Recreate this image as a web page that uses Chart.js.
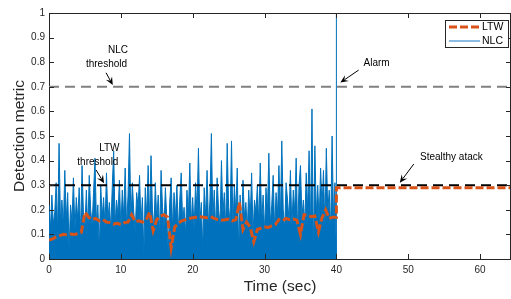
<!DOCTYPE html>
<html>
<head>
<script src="https://cdn.jsdelivr.net/npm/chart.js"></script>
<style>html,body{margin:0;padding:0;background:#fff;}</style>
</head>
<body>
<canvas id="chart" width="511" height="299"></canvas>
<script>
// NLC detection metric, sampled every 0.2 s from t = 0
const nlcStep = 0.2;
const nlcValues = [
  0.22, 0.12, 0.26, 0.14, 0.19, 0.31, 0.11, 0.47, 0.15, 0.24,
  0.13, 0.36, 0.16, 0.27, 0.04, 0.22, 0.15, 0.33, 0.12, 0.25,
  0.16, 0.29, 0.10, 0.38, 0.18, 0.13, 0.28, 0.11, 0.34, 0.20,
  0.14, 0.27, 0.41, 0.15, 0.22, 0.03, 0.30, 0.17, 0.25, 0.13,
  0.35, 0.16, 0.23, 0.12, 0.29, 0.44, 0.14, 0.24, 0.18, 0.32,
  0.12, 0.28, 0.17, 0.37, 0.13, 0.26, 0.51, 0.15, 0.31, 0.19,
  0.11, 0.27, 0.21, 0.34, 0.14, 0.25, 0.02, 0.29, 0.17, 0.38,
  0.15, 0.42, 0.20, 0.12, 0.31, 0.16, 0.26, 0.10, 0.36, 0.21,
  0.13, 0.29, 0.16, 0.03, 0.23, 0.33, 0.12, 0.27, 0.17, 0.30,
  0.11, 0.24, 0.35, 0.15, 0.21, 0.10, 0.28, 0.18, 0.39, 0.14,
  0.25, 0.12, 0.31, 0.19, 0.45, 0.15, 0.23, 0.04, 0.29, 0.17,
  0.36, 0.13, 0.24, 0.51, 0.16, 0.28, 0.11, 0.33, 0.20, 0.14,
  0.40, 0.18, 0.27, 0.12, 0.47, 0.21, 0.15, 0.48, 0.13, 0.30,
  0.19, 0.37, 0.03, 0.26, 0.11, 0.32, 0.17, 0.23, 0.12, 0.28,
  0.16, 0.35, 0.10, 0.24, 0.19, 0.30, 0.14, 0.39, 0.15, 0.26,
  0.11, 0.29, 0.19, 0.43, 0.14, 0.22, 0.34, 0.12, 0.27, 0.18,
  0.38, 0.15, 0.48, 0.20, 0.12, 0.31, 0.24, 0.16, 0.36, 0.13,
  0.28, 0.19, 0.41, 0.11, 0.30, 0.38, 0.17, 0.24, 0.14, 0.35,
  0.20, 0.44, 0.12, 0.61, 0.02, 0.46, 0.18, 0.30, 0.15, 0.37,
  0.21, 0.36, 0.13, 0.45, 0.19, 0.28, 0.11, 0.50, 0.16, 0.31
];
const alarmTime = 40;
const alarmValue = 1;

// LTW detection metric, sampled every 0.5 s from t = 0 to 40
const ltwStep = 0.5;
const ltwValues = [
  0.077, 0.082, 0.090, 0.095, 0.100, 0.098, 0.102, 0.100, 0.103, 0.108,
  0.190, 0.170, 0.160, 0.165, 0.155, 0.160, 0.150, 0.148, 0.142, 0.145,
  0.140, 0.148, 0.150, 0.180, 0.152, 0.155, 0.150, 0.158, 0.190, 0.115,
  0.160, 0.175, 0.180, 0.170, 0.045, 0.130, 0.145, 0.155, 0.160, 0.165,
  0.168, 0.170, 0.172, 0.170, 0.168, 0.172, 0.165, 0.160, 0.158, 0.160,
  0.162, 0.155, 0.160, 0.230, 0.120, 0.150, 0.130, 0.070, 0.120, 0.125,
  0.130, 0.128, 0.135, 0.140, 0.160, 0.155, 0.165, 0.160, 0.162, 0.158,
  0.100, 0.180, 0.178, 0.172, 0.175, 0.110, 0.168, 0.200, 0.165, 0.170, 0.170
];
const ltwAttackValue = 0.29;

const endTime = 64.3;
const nlcThreshold = 0.7;
const ltwThreshold = 0.3;
const xTicks = [0, 10, 20, 30, 40, 50, 60];
const yTicks = [0, 0.1, 0.2, 0.3, 0.4, 0.5, 0.6, 0.7, 0.8, 0.9, 1];

const FONT = "'Liberation Sans', Arial, Helvetica, sans-serif";
const AXIS = '#262626';
const BLUE = '#0072BD';
const ORANGE = '#D95319';

const nlcPoints = nlcValues.map((v, i) => ({ x: i * nlcStep, y: v }));
nlcPoints.push({ x: alarmTime, y: 0 }, { x: alarmTime, y: alarmValue });
const ltwPoints = ltwValues.map((v, i) => ({ x: i * ltwStep, y: v }));
ltwPoints.push({ x: alarmTime, y: ltwAttackValue }, { x: endTime, y: ltwAttackValue });

// text labels and arrows, in data coordinates
const notes = [
  { text: 'NLC', x: 9.6, y: 0.848 },
  { text: 'threshold', x: 8.0, y: 0.79 },
  { text: 'LTW', x: 8.4, y: 0.451 },
  { text: 'threshold', x: 6.8, y: 0.394 },
  { text: 'Alarm', x: 45.6, y: 0.797 },
  { text: 'Stealthy atack', x: 56.0, y: 0.415 }
];
const arrows = [
  [7.94, 0.757, 8.88, 0.707],
  [6.55, 0.362, 7.67, 0.308],
  [43.1, 0.768, 40.55, 0.717],
  [50.77, 0.386, 48.82, 0.31]
];

function drawArrow(ctx, x1, y1, x2, y2) {
  const a = Math.atan2(y2 - y1, x2 - x1);
  const len = 8, w = 3.5;
  ctx.strokeStyle = '#000';
  ctx.lineWidth = 1;
  ctx.beginPath();
  ctx.moveTo(x1, y1);
  ctx.lineTo(x2 - Math.cos(a) * 5, y2 - Math.sin(a) * 5);
  ctx.stroke();
  ctx.save();
  ctx.translate(x2, y2);
  ctx.rotate(a);
  ctx.fillStyle = '#000';
  ctx.beginPath();
  ctx.moveTo(0, 0);
  ctx.lineTo(-len, -w);
  ctx.lineTo(-len * 0.6, 0);
  ctx.lineTo(-len, w);
  ctx.closePath();
  ctx.fill();
  ctx.restore();
}

const extras = {
  id: 'extras',
  afterDraw(chart) {
    const { ctx, chartArea: a, scales: { x, y } } = chart;
    ctx.save();
    // box and inward ticks
    ctx.strokeStyle = AXIS;
    ctx.lineWidth = 1;
    ctx.beginPath();
    ctx.moveTo(a.left, a.top + 0.5);
    ctx.lineTo(a.right, a.top + 0.5);
    ctx.moveTo(a.right - 0.5, a.top);
    ctx.lineTo(a.right - 0.5, a.bottom);
    xTicks.forEach(t => {
      const px = Math.round(x.getPixelForValue(t)) + 0.5;
      ctx.moveTo(px, a.top); ctx.lineTo(px, a.top + 5);
      ctx.moveTo(px, a.bottom); ctx.lineTo(px, a.bottom - 5);
    });
    yTicks.forEach(t => {
      const py = Math.round(y.getPixelForValue(t)) + 0.5;
      ctx.moveTo(a.left, py); ctx.lineTo(a.left + 5, py);
      ctx.moveTo(a.right, py); ctx.lineTo(a.right - 5, py);
    });
    ctx.stroke();

    // annotations
    ctx.fillStyle = '#000';
    ctx.font = '10px ' + FONT;
    ctx.textAlign = 'center';
    ctx.textBaseline = 'middle';
    notes.forEach(n => ctx.fillText(n.text, x.getPixelForValue(n.x), y.getPixelForValue(n.y)));
    arrows.forEach(r => drawArrow(ctx,
      x.getPixelForValue(r[0]), y.getPixelForValue(r[1]),
      x.getPixelForValue(r[2]), y.getPixelForValue(r[3])));

    // legend box
    ctx.fillStyle = '#fff';
    ctx.fillRect(445.5, 20.5, 63, 27);
    ctx.strokeStyle = AXIS;
    ctx.strokeRect(445.5, 20.5, 63, 27);
    ctx.lineWidth = 3;
    ctx.strokeStyle = ORANGE;
    ctx.setLineDash([8, 3]);
    ctx.beginPath(); ctx.moveTo(449, 27); ctx.lineTo(480, 27); ctx.stroke();
    ctx.setLineDash([]);
    ctx.lineWidth = 1.2;
    ctx.strokeStyle = '#3d8fd0';
    ctx.beginPath(); ctx.moveTo(449, 41); ctx.lineTo(480, 41); ctx.stroke();
    ctx.fillStyle = '#000';
    ctx.font = '10.5px ' + FONT;
    ctx.textAlign = 'left';
    ctx.fillText('LTW', 482, 27);
    ctx.fillText('NLC', 482, 41.5);
    ctx.restore();
  }
};

new Chart(document.getElementById('chart'), {
  type: 'line',
  data: {
    datasets: [
      { label: 'LTW', data: ltwPoints, borderColor: ORANGE, borderWidth: 3, borderDash: [8, 3] },
      { label: 'LTW threshold', data: [{ x: 0, y: ltwThreshold }, { x: endTime, y: ltwThreshold }],
        borderColor: '#000', borderWidth: 2, borderDash: [10, 6] },
      { label: 'NLC threshold', data: [{ x: 0, y: nlcThreshold }, { x: endTime, y: nlcThreshold }],
        borderColor: '#808080', borderWidth: 2, borderDash: [10, 6] },
      { label: 'NLC', data: nlcPoints, borderColor: BLUE, backgroundColor: BLUE, borderWidth: 1, fill: 'origin' }
    ]
  },
  options: {
    responsive: false,
    animation: false,
    layout: { padding: { top: 13, right: 0, left: 0, bottom: 0 } },
    elements: { point: { radius: 0 }, line: { tension: 0 } },
    plugins: { legend: { display: false }, tooltip: { enabled: false } },
    scales: {
      x: {
        type: 'linear', min: 0, max: endTime,
        afterBuildTicks: s => { s.ticks = xTicks.map(v => ({ value: v })); },
        afterFit: s => { s.height = 40; },
        grid: { display: false, drawTicks: false },
        border: { display: true, color: AXIS, width: 1 },
        ticks: { font: { family: FONT, size: 10 }, color: AXIS, padding: 5, maxRotation: 0, autoSkip: false },
        title: { display: true, text: 'Time (sec)', color: AXIS, font: { family: FONT, size: 15.5 }, padding: { top: 0, bottom: 3 } }
      },
      y: {
        type: 'linear', min: 0, max: 1,
        afterBuildTicks: s => { s.ticks = yTicks.map(v => ({ value: v })); },
        afterFit: s => { s.width = 49; },
        grid: { display: false, drawTicks: false },
        border: { display: true, color: AXIS, width: 1 },
        ticks: { font: { family: FONT, size: 10 }, color: AXIS, padding: 4, autoSkip: false, callback: v => String(v) },
        title: { display: true, text: 'Detection metric', color: AXIS, font: { family: FONT, size: 15.5 }, padding: { top: 10, bottom: 0 } }
      }
    }
  },
  plugins: [extras]
});
</script>
</body>
</html>
